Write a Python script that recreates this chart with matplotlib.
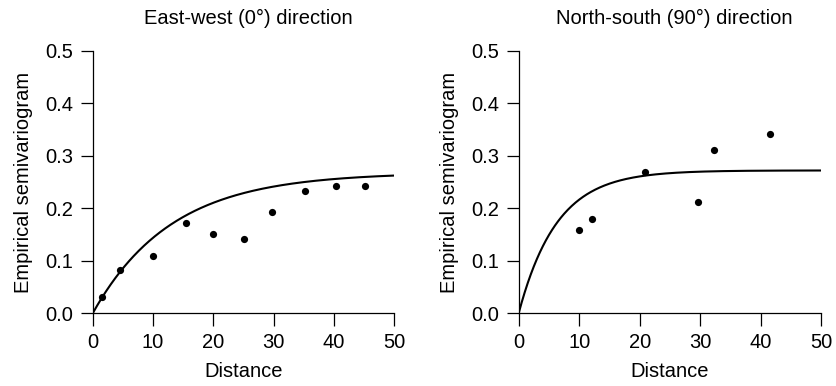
import numpy as np
import matplotlib
matplotlib.use("Agg")
import matplotlib.pyplot as plt

plt.rcParams['font.family'] = ['Liberation Sans', 'DejaVu Sans']

# Empirical semivariogram, east-west (0 deg) direction
ew_dist = [1.5, 4.5, 10.0, 15.4, 19.9, 25.0, 29.8, 35.2, 40.3, 45.2]
ew_gamma = [0.032, 0.082, 0.110, 0.171, 0.151, 0.142, 0.192, 0.232, 0.242, 0.242]

# Empirical semivariogram, north-south (90 deg) direction
ns_dist = [10.0, 12.2, 20.8, 29.6, 32.2, 41.6]
ns_gamma = [0.159, 0.180, 0.269, 0.211, 0.310, 0.341]

# Fitted exponential variogram models: (sill, range parameter)
ew_model = (0.268, 13.0)
ns_model = (0.272, 6.3)

titles = ["East-west (0°) direction", "North-south (90°) direction"]
x_ticks = [0, 10, 20, 30, 40, 50]
y_ticks = [0.0, 0.1, 0.2, 0.3, 0.4, 0.5]
y_ticklabels = ["0.0", "0.1", "0.2", "0.3", "0.4", "0.5"]

FS = 14.5

fig = plt.figure(figsize=(8.36, 3.86), dpi=100)
positions = [[0.1109, 0.1883, 0.3608, 0.6804],
             [0.6204, 0.1883, 0.3620, 0.6804]]

panels = [(ew_dist, ew_gamma, ew_model), (ns_dist, ns_gamma, ns_model)]

for pos, title, (dist, gamma, (sill, rng)) in zip(positions, titles, panels):
    ax = fig.add_axes(pos)
    h = np.linspace(0, 50, 400)
    ax.plot(h, sill * (1 - np.exp(-h / rng)), color="black", lw=1.5,
            solid_capstyle="butt")
    ax.plot(dist, gamma, "o", color="black", ms=5.2, mew=0)
    ax.set_xlim(0, 50)
    ax.set_ylim(0, 0.5)
    ax.set_xticks(x_ticks)
    ax.set_yticks(y_ticks)
    ax.set_yticklabels(y_ticklabels)
    for s in ("top", "right"):
        ax.spines[s].set_visible(False)
    for s in ("left", "bottom"):
        ax.spines[s].set_linewidth(0.9)
    ax.tick_params(direction="out", length=9, width=0.9, labelsize=FS,
                   colors="black")
    ax.tick_params(axis="y", pad=5)
    ax.tick_params(axis="x", pad=5.5)
    ax.set_xlabel("Distance", fontsize=FS, labelpad=7)
    ax.set_ylabel("Empirical semivariogram", fontsize=FS, labelpad=9)
    ax.set_title(title, fontsize=FS, pad=19, x=0.515)
    ax.patch.set_visible(False)

fig.savefig("out.png", dpi=100)
